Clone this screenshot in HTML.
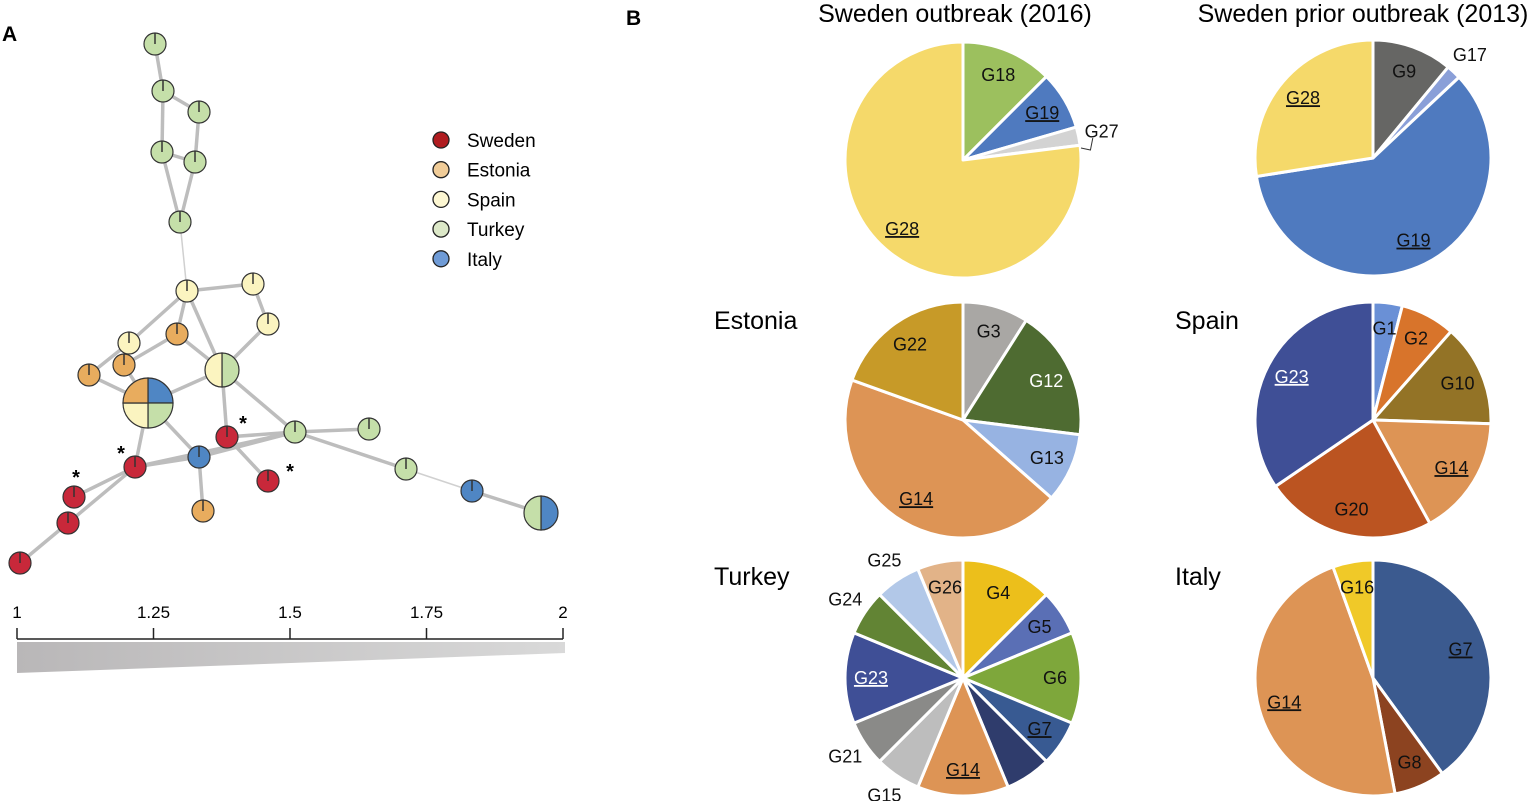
<!DOCTYPE html>
<html><head><meta charset="utf-8"><style>
html,body{margin:0;padding:0;background:#fff;}
svg{display:block;font-family:"Liberation Sans",Arial,sans-serif;}
</style></head><body>
<svg id="fig" width="1535" height="801" viewBox="0 0 1535 801" xmlns="http://www.w3.org/2000/svg">
<defs>
<linearGradient id="wedgeGrad" x1="0" x2="1" y1="0" y2="0"><stop offset="0" stop-color="#b9b7b8"/><stop offset="1" stop-color="#d9d9d9"/></linearGradient>
</defs>
<text x="2" y="41" font-size="21" font-weight="bold">A</text>
<text x="626" y="25" font-size="21" font-weight="bold">B</text>
<g id="net"></g>
<g id="legend"></g>
<g id="scale"></g>
<g id="pies"></g>
</svg>
<script>
const NS="http://www.w3.org/2000/svg";
function mk(tag,attrs,parent){const e=document.createElementNS(NS,tag);for(const k in attrs)e.setAttribute(k,attrs[k]);parent.appendChild(e);return e;}
const C={SE:"#c8283a",EE:"#e8ac5e",ES:"#fbf4c0",TR:"#c5dfa9",IT:"#4f86c4"};

// ---- network ----
const nodeX=[155,163,199,162,195,180,187,253,268,129,177,124,89,148,222,227,135,74,68,20,268,199,203,295,369,406,472,541];
const nodeY=[44,91,112,152,162,222,291,284,324,343,334,365,375,403,370,437,467,497,523,563,481,457,511,432,429,469,491,513];
const nodeR=[11,11,11,11,11,11,11,11,11,11,11,11,11,25,17,11,11,11,11,11,11,11,11,11,11,11,11,17];
const nodeC=[["TR"],["TR"],["TR"],["TR"],["TR"],["TR"],["ES"],["ES"],["ES"],["ES"],["EE"],["EE"],["EE"],["IT","TR","ES","EE"],["TR","ES"],["SE"],["SE"],["SE"],["SE"],["SE"],["SE"],["IT"],["EE"],["TR"],["TR"],["TR"],["IT"],["IT","TR"]];
const edges=[[0,1],[1,2],[1,3],[3,4],[2,4],[3,5],[4,5],[6,7],[7,8],[8,14],[6,9],[6,10],[6,14],[9,12],[11,10],[11,13],[12,13],[13,14],[10,14],[14,15],[14,23],[13,16],[13,21],[16,21],[16,23],[21,23],[15,23],[15,20],[21,22],[16,17],[16,18],[18,19],[23,24],[23,25],[26,27]];
const thinEdges=[[5,6],[25,26]];
const net=document.getElementById('net');
edges.forEach(([a,b])=>{const l=mk('line',{x1:nodeX[a],y1:nodeY[a],x2:nodeX[b],y2:nodeY[b],stroke:"#bdbdbd","stroke-width":3.5},net);

});
thinEdges.forEach(([a,b])=>{const l=mk('line',{x1:nodeX[a],y1:nodeY[a],x2:nodeX[b],y2:nodeY[b],stroke:"#d0d0d0","stroke-width":1.5},net);

});
function pt(cx,cy,r,a){return [cx+r*Math.sin(a),cy-r*Math.cos(a)];}
nodeX.forEach((x,i)=>{const y=nodeY[i],r=nodeR[i],cs=nodeC[i];
 const g=mk('g',{},net);
 
 
 if(cs.length===1){mk('circle',{cx:x,cy:y,r:r,fill:C[cs[0]],stroke:"#333","stroke-width":1.2},g);
  mk('line',{x1:x,y1:y-r,x2:x,y2:y,stroke:"#333","stroke-width":1.5},g);}
 else{const n=cs.length;cs.forEach((c,k)=>{const a0=k/n*2*Math.PI,a1=(k+1)/n*2*Math.PI;const p0=pt(x,y,r,a0),p1=pt(x,y,r,a1);
   mk('path',{d:`M${x},${y}L${p0[0]},${p0[1]}A${r},${r} 0 0 1 ${p1[0]},${p1[1]}Z`,fill:C[c],stroke:"#333","stroke-width":1.2},g);});}
});
const stars=[[243,430],[121,460],[76,484],[290,478]];
stars.forEach(([x,y])=>{const t=mk('text',{x:x,y:y,"font-size":20,"font-weight":"bold","text-anchor":"middle"},net);t.textContent="*";

});

// ---- legend ----
const legNames=["Sweden","Estonia","Spain","Turkey","Italy"];
const legColors=["#b01c20","#f0cc98","#fdf7d2","#dce8c8","#6f9bd6"];
const leg=document.getElementById('legend');
legNames.forEach((n,i)=>{const y=140+i*29.7;const g=mk('g',{},leg);
 
 
 mk('circle',{cx:441,cy:y,r:8,fill:legColors[i],stroke:"#222","stroke-width":1.3},g);
 const t=mk('text',{x:467,y:y+7,"font-size":19},g);t.textContent=n;});

// ---- scale ----
const scaleTicks=["1","1.25","1.5","1.75","2"];
const sc=document.getElementById('scale');
const sx=v=>17+(v-1)*546;
mk('line',{x1:17,y1:639,x2:563,y2:639,stroke:"#222","stroke-width":1.5},sc);
scaleTicks.forEach(s=>{const x=sx(parseFloat(s));mk('line',{x1:x,y1:628,x2:x,y2:639,stroke:"#222","stroke-width":1.5},sc);
 const t=mk('text',{x:x,y:618,"font-size":17,"text-anchor":"middle"},sc);t.textContent=s;
 
 });
mk('polygon',{points:"17,642 565,642 565,653 17,673",fill:"url(#wedgeGrad)"},sc);

// ---- pies ----
const pieTitles=["Sweden outbreak (2016)","Sweden prior outbreak (2013)","Estonia","Spain","Turkey","Italy"];
const pieCX=[963,1373,963,1373,963,1373];
const pieCY=[160,158,420,420,678,678];
const labels1=["G18","G19","G27","G28"];
const values1=[12.5,8,2.5,77];
const colors1=["#9cc05e","#4f7abf","#d3d3d3","#f5d96a"];
const labels2=["G9","G17","G19","G28"];
const values2=[11,2,59.5,27.5];
const colors2=["#666664","#8a9fd8","#4f7abf","#f5d96a"];
const labels3=["G3","G12","G13","G14","G22"];
const values3=[9,18,9.5,44,19.5];
const colors3=["#a9a7a4","#4e6b31","#97b3e2","#dd9455","#c79a28"];
const labels4=["G1","G2","G10","G14","G20","G23"];
const values4=[4,7.5,14,16.5,23.5,34.5];
const colors4=["#6a90d6","#d8742b","#937326","#dd9455","#bb5421","#3f4f96"];
const labels5=["G4","G5","G6","G7","","G14","G15","G21","G23","G24","G25","G26"];
const values5=[2,1,2,1,1,2,1,1,2,1,1,1];
const colors5=["#ecbf1b","#5a6fb5","#7ea73b","#385a92","#2f3c6c","#dd9455","#bdbdbd","#8a8a88","#3f4f96","#628434","#b2c8e8","#e2b388"];
const labels6=["G7","G8","G14","G16"];
const values6=[40,7,47.5,5.5];
const colors6=["#3b5a8f","#8c4320","#dd9455","#f0c928"];
const pieLabels=[labels1,labels2,labels3,labels4,labels5,labels6];
const pieValues=[values1,values2,values3,values4,values5,values6];
const pieColors=[colors1,colors2,colors3,colors4,colors5,colors6];
const underlined=[["G19","G28"],["G19","G28"],["G14"],["G23","G14"],["G23","G7","G14"],["G7","G14"]];
const whiteText=[[],[],["G12"],["G23"],["G23"],[]];
const outside=[["G27"],["G17"],[],[],["G15","G21","G24","G25"],[]];
const R=118;
const pies=document.getElementById('pies');
const titlePos=[[955,22,"middle"],[1363,22,"middle"],[714,329,"start"],[1175,329,"start"],[714,585,"start"],[1175,585,"start"]];
pieTitles.forEach((tt,p)=>{
 const t=mk('text',{x:titlePos[p][0],y:titlePos[p][1],"font-size":25,"text-anchor":titlePos[p][2]},pies);t.textContent=tt;
 
 
 const g=mk('g',{},pies);
 
 
 const vals=pieValues[p],tot=vals.reduce((a,b)=>a+b,0),cx=pieCX[p],cy=pieCY[p];
 let acc=0;
 vals.forEach((v,i)=>{const a0=acc/tot*2*Math.PI;acc+=v;const a1=acc/tot*2*Math.PI;
  const p0=pt(cx,cy,R,a0),p1=pt(cx,cy,R,a1);const large=(a1-a0)>Math.PI?1:0;
  const s=mk('path',{d:`M${cx},${cy}L${p0[0]},${p0[1]}A${R},${R} 0 ${large} 1 ${p1[0]},${p1[1]}Z`,fill:pieColors[p][i],stroke:"#fff","stroke-width":3,"stroke-linejoin":"round"},g);
  
  
 });
 acc=0;
 vals.forEach((v,i)=>{const mid=(acc+v/2)/tot*2*Math.PI;acc+=v;const lab=pieLabels[p][i];if(!lab)return;
  const out=outside[p].includes(lab);
  let rr=out?R*1.2:R*0.78;
  const q=pt(cx,cy,rr,mid);
  const t=mk('text',{x:q[0],y:q[1]+6,"font-size":18,"text-anchor":"middle",fill:whiteText[p].includes(lab)?"#fff":"#111"},g);
  if(underlined[p].includes(lab))t.setAttribute('text-decoration','underline');
  t.textContent=lab;
  
  
  if(lab==="G27"){mk('polyline',{points:`${cx+R*1.0},${cy-12} ${cx+R*1.08},${cy-10} ${cx+R*1.1},${cy-22}`,fill:"none",stroke:"#333","stroke-width":1},g);}
 });
});
</script>
</body></html>
